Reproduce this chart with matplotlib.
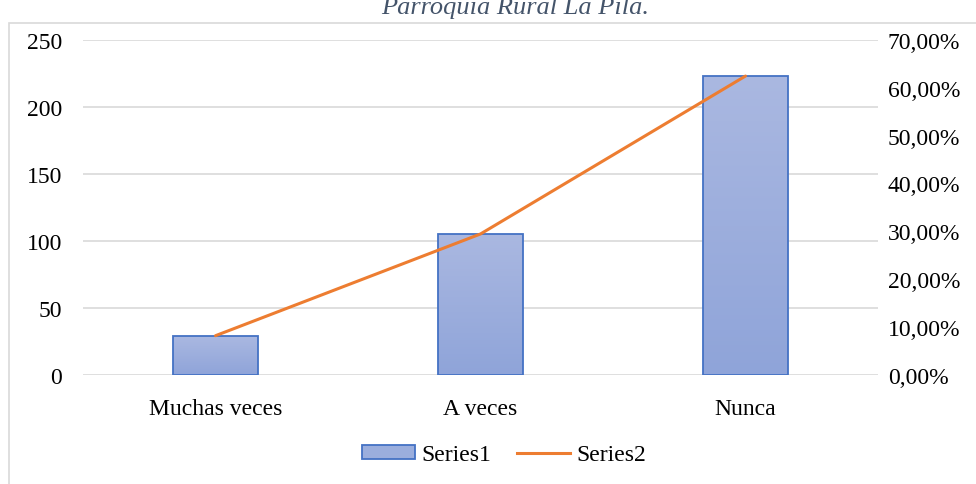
import numpy as np
import matplotlib.pyplot as plt
from matplotlib.patches import Rectangle
from matplotlib.lines import Line2D
from matplotlib.ticker import FuncFormatter
from matplotlib.colors import LinearSegmentedColormap

# data
categories = ['Muchas veces', 'A veces', 'Nunca']
series1 = [29, 105, 223]
series2 = [0.0812, 0.2941, 0.6246]
left_ticks = [0, 50, 100, 150, 200, 250]
right_ticks = [0.0, 0.1, 0.2, 0.3, 0.4, 0.5, 0.6, 0.7]

plt.rcParams['font.family'] = ['Liberation Serif', 'DejaVu Serif']
FS = 17

W, H = 976, 485
fig = plt.figure(figsize=(W / 100, H / 100), dpi=100)

# outer chart frame (partly off the picture, like the reference)
fig.patches.append(Rectangle((9 / W, -0.05), 1.2, (H - 24) / H + 0.05,
                             transform=fig.transFigure, fill=False,
                             edgecolor='#D9D9D9', linewidth=1.2))

# title sits at the very top edge, as in the reference
fig.text(515 / W, 1 - 8 / H, 'Parroquia Rural La Pila.', ha='center', va='center',
         fontsize=19, style='italic', color='#44546A')

ax = fig.add_axes([83 / W, 1 - 375.5 / H, (878 - 83) / W, (375.5 - 41) / H])
ax2 = ax.twinx()

x = np.arange(len(categories))
bars = ax.bar(x, series1, width=0.32, color='none', edgecolor='#4472C4',
              linewidth=1.3, zorder=3)

# vertical gradient fill inside each bar
cmap = LinearSegmentedColormap.from_list('g', ['#8FA4D9', '#AAB8E1'])
grad = np.linspace(0, 1, 256).reshape(-1, 1)
for b in bars:
    im = ax.imshow(grad, cmap=cmap, origin='lower', aspect='auto',
                   extent=[b.get_x(), b.get_x() + b.get_width(), 0, b.get_height()],
                   zorder=2)
    im.set_clip_path(b)

ax.set_xlim(-0.5, len(categories) - 0.5)
ax.set_ylim(0, 250)
ax.set_yticks(left_ticks)
ax.set_xticks(x)
ax.set_xticklabels(categories)
ax.grid(axis='y', color='#D9D9D9', linewidth=1.2, zorder=0)
ax.set_axisbelow(True)
for s in ax.spines.values():
    s.set_visible(False)
ax.tick_params(length=0, labelsize=FS, colors='black')
ax.tick_params(axis='y', pad=15)
ax.tick_params(axis='x', pad=17)

ax2.plot(x, series2, color='#ED7D31', linewidth=2.2, solid_capstyle='round', zorder=4)
ax2.set_ylim(0, 0.7)
ax2.set_yticks(right_ticks)
ax2.yaxis.set_major_formatter(FuncFormatter(lambda v, p: f'{v * 100:.2f}%'.replace('.', ',')))
for s in ax2.spines.values():
    s.set_visible(False)
ax2.tick_params(length=0, labelsize=FS, pad=7)
ax.set_zorder(ax2.get_zorder() - 1)
ax2.patch.set_visible(False)
ax.patch.set_visible(False)

handles = [Rectangle((0, 0), 1, 1, facecolor='#9BAEDD', edgecolor='#4472C4', linewidth=1.3),
           Line2D([0], [0], color='#ED7D31', linewidth=2.2)]
fig.legend(handles, ['Series1', 'Series2'], loc='center', ncol=2,
           bbox_to_anchor=(504 / W, 1 - 456 / H), frameon=False, fontsize=FS,
           handlelength=2.25, handleheight=0.5, columnspacing=1.1, handletextpad=0.25)

fig.savefig('out.png', dpi=100)
